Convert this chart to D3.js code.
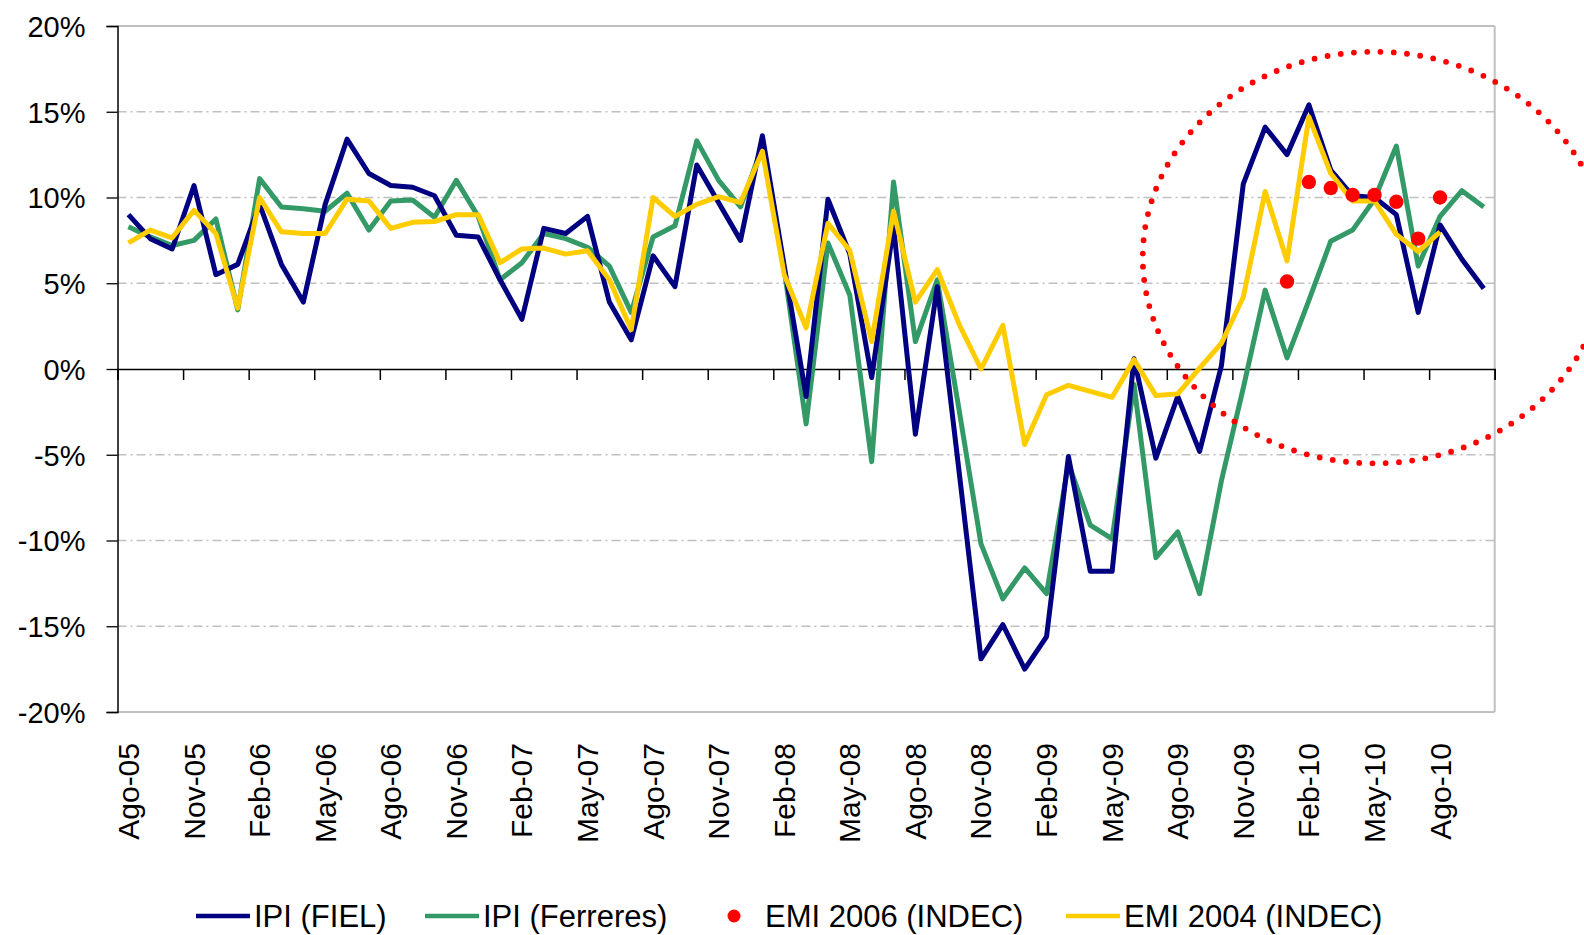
<!DOCTYPE html>
<html>
<head>
<meta charset="utf-8">
<script src="https://cdn.jsdelivr.net/npm/d3@7/dist/d3.min.js"></script>
<style>
body { margin: 0; background: #fff; }
svg text { font-family: "Liberation Sans", Arial, sans-serif; fill: #000; }
</style>
</head>
<body>
<div id="chart"></div>
<script>
// monthly categories, Ago-05 .. Oct-10
var months = ["Ago-05","Sep-05","Oct-05","Nov-05","Dic-05","Ene-06","Feb-06","Mar-06","Abr-06","May-06","Jun-06","Jul-06",
  "Ago-06","Sep-06","Oct-06","Nov-06","Dic-06","Ene-07","Feb-07","Mar-07","Abr-07","May-07","Jun-07","Jul-07",
  "Ago-07","Sep-07","Oct-07","Nov-07","Dic-07","Ene-08","Feb-08","Mar-08","Abr-08","May-08","Jun-08","Jul-08",
  "Ago-08","Sep-08","Oct-08","Nov-08","Dic-08","Ene-09","Feb-09","Mar-09","Abr-09","May-09","Jun-09","Jul-09",
  "Ago-09","Sep-09","Oct-09","Nov-09","Dic-09","Ene-10","Feb-10","Mar-10","Abr-10","May-10","Jun-10","Jul-10",
  "Ago-10","Sep-10","Oct-10"];

var xTickLabels = ["Ago-05","Nov-05","Feb-06","May-06","Ago-06","Nov-06","Feb-07","May-07","Ago-07","Nov-07",
  "Feb-08","May-08","Ago-08","Nov-08","Feb-09","May-09","Ago-09","Nov-09","Feb-10","May-10","Ago-10"];

var yTicks = [-20, -15, -10, -5, 0, 5, 10, 15, 20];

// IPI (FIEL)
var ipiFiel = [9.0, 7.6, 7.0, 10.7, 5.5, 6.1, 9.6, 6.1, 3.9, 9.6, 13.4, 11.4,
  10.7, 10.6, 10.1, 7.8, 7.7, 5.2, 2.9, 8.2, 7.9, 8.9, 3.9, 1.7,
  6.6, 4.8, 11.9, 9.7, 7.5, 13.6, 6.0, -1.6, 9.9, 6.7, -0.5, 8.3,
  -3.8, 4.8, -6.0, -16.9, -14.9, -17.5, -15.6, -5.1, -11.8, -11.8, 0.6, -5.2,
  -1.6, -4.8, 0.2, 10.8, 14.1, 12.5, 15.4, 11.6, 10.1, 10.0, 9.0, 3.3,
  8.4, 6.4, 4.7];

// IPI (Ferreres)
var ipiFerreres = [8.3, 7.7, 7.2, 7.5, 8.75, 3.45, 11.1, 9.45, 9.35, 9.2, 10.25, 8.1,
  9.8, 9.85, 8.85, 11.0, 8.9, 5.2, 6.2, 7.9, 7.6, 7.1, 6.0, 3.3,
  7.7, 8.35, 13.3, 11.0, 9.45, 13.0, 5.8, -3.2, 7.35, 4.3, -5.4, 10.9,
  1.6, 5.2, -2.4, -10.2, -13.4, -11.6, -13.1, -5.5, -9.1, -9.9, -0.9, -11.0,
  -9.5, -13.1, -6.5, -1.1, 4.6, 0.65, 4.0, 7.45, 8.1, 9.9, 13.0, 6.0,
  8.9, 10.4, 9.45];

// EMI 2004 (INDEC), ends Ago-10
var emi2004 = [7.35, 8.1, 7.65, 9.25, 7.9, 3.55, 10.0, 8.0, 7.9, 7.9, 9.9, 9.8,
  8.2, 8.55, 8.6, 9.0, 9.0, 6.2, 7.0, 7.05, 6.7, 6.9, 5.2, 2.3,
  10.0, 8.9, 9.6, 10.05, 9.7, 12.7, 5.5, 2.4, 8.5, 6.9, 1.6, 9.2,
  3.9, 5.8, 2.6, 0.0, 2.55, -4.4, -1.5, -0.95, -1.3, -1.65, 0.55, -1.55,
  -1.45, 0.05, 1.5, 4.2, 10.35, 6.3, 14.7, 11.4, 9.8, 9.8, 7.85, 6.85,
  8.0, null, null];

// EMI 2006 (INDEC), Ene-10 .. Ago-10
var emi2006Months = ["Ene-10","Feb-10","Mar-10","Abr-10","May-10","Jun-10","Jul-10","Ago-10"];
var emi2006 = [5.1, 10.9, 10.55, 10.15, 10.15, 9.75, 7.6, 10.0];

// dotted ring drawn round the last months (in data units)
var ringCenterMonth = 57, ringCenterPct = 6.5, ringRadiusMonths = 10.6, ringRadiusPct = 12;

var W = 1584, H = 935;
var plotLeft = 117.5, plotRight = 1494.7, plotTop = 26, plotBottom = 712;

var svg = d3.select("#chart").append("svg")
    .attr("width", W)
    .attr("height", H);

var x = d3.scaleBand().domain(months).range([plotLeft, plotRight]).padding(0);
var xb = d3.scaleLinear().domain([0, months.length]).range([plotLeft, plotRight]);
var y = d3.scaleLinear().domain([-20, 20]).range([plotBottom, plotTop]);
var cx = function(m) { return x(m) + x.bandwidth() / 2; };

// gridlines
svg.append("g")
    .selectAll("line")
    .data(yTicks.filter(function(d) { return d !== 0; }))
    .enter()
    .append("line")
    .attr("x1", plotLeft).attr("x2", plotRight)
    .attr("y1", function(d) { return y(d); })
    .attr("y2", function(d) { return y(d); })
    .attr("stroke", "#c0c0c0")
    .attr("stroke-width", function(d) { return Math.abs(d) === 20 ? 2 : 1.4; })
    .attr("stroke-dasharray", function(d) { return Math.abs(d) === 20 ? null : "9,4,2,4"; });

svg.append("line")
    .attr("x1", plotRight).attr("x2", plotRight).attr("y1", plotTop).attr("y2", plotBottom)
    .attr("stroke", "#c0c0c0").attr("stroke-width", 2);

// y axis
var yAxis = svg.append("g")
    .attr("transform", "translate(" + plotLeft + ",0)")
    .call(d3.axisLeft(y).tickValues(yTicks).tickSize(11).tickPadding(21)
        .tickFormat(function(d) { return d + "%"; }));
yAxis.select(".domain").attr("stroke", "#000").attr("stroke-width", 1.5);
yAxis.selectAll(".tick line").attr("stroke", "#000").attr("stroke-width", 1.3);
yAxis.selectAll("text").style("font-size", "29px").attr("dy", "0.36em");

// x axis line at 0% with tick marks between every third month
var xAxis = svg.append("g")
    .attr("transform", "translate(0," + y(0) + ")")
    .call(d3.axisBottom(xb).tickValues(d3.range(0, months.length + 1, 3)).tickSize(11).tickFormat(""));
xAxis.select(".domain").attr("stroke", "#000").attr("stroke-width", 1.5);
xAxis.selectAll(".tick line").attr("stroke", "#000").attr("stroke-width", 1.5);

// x labels, rotated, at the bottom
svg.append("g")
    .selectAll("text")
    .data(xTickLabels)
    .enter()
    .append("text")
    .attr("transform", function(d) { return "translate(" + cx(d) + ",743) rotate(-90)"; })
    .attr("text-anchor", "end")
    .attr("dy", "0.35em")
    .style("font-size", "30px")
    .text(function(d) { return d; });

// series
var line = d3.line()
    .defined(function(d) { return d.v !== null; })
    .x(function(d) { return cx(d.m); })
    .y(function(d) { return y(d.v); });

function pairs(vals) {
    return months.map(function(m, i) { return { m: m, v: vals[i] }; });
}

var series = [
    { vals: ipiFerreres, color: "#339966" },
    { vals: ipiFiel, color: "#000080" },
    { vals: emi2004, color: "#ffcc00" }
];

svg.append("g")
    .selectAll("path")
    .data(series)
    .enter()
    .append("path")
    .attr("d", function(s) { return line(pairs(s.vals)); })
    .attr("fill", "none")
    .attr("stroke", function(s) { return s.color; })
    .attr("stroke-width", 5)
    .attr("stroke-linejoin", "round");

svg.append("g")
    .selectAll("circle")
    .data(emi2006Months)
    .enter()
    .append("circle")
    .attr("cx", function(m) { return cx(m); })
    .attr("cy", function(m, i) { return y(emi2006[i]); })
    .attr("r", 7.2)
    .attr("fill", "#ff0000");

// dotted ring
svg.append("ellipse")
    .attr("cx", cx(months[ringCenterMonth]))
    .attr("cy", y(ringCenterPct))
    .attr("rx", ringRadiusMonths * x.bandwidth())
    .attr("ry", y(0) - y(ringRadiusPct))
    .attr("fill", "none")
    .attr("stroke", "#ff0000")
    .attr("stroke-width", 5.8)
    .attr("stroke-linecap", "round")
    .attr("stroke-dasharray", "0,13.3");

// legend
var legendItems = [
    { label: "IPI (FIEL)", color: "#000080", type: "line", x: 196 },
    { label: "IPI (Ferreres)", color: "#339966", type: "line", x: 425 },
    { label: "EMI 2006 (INDEC)", color: "#ff0000", type: "dot", x: 707 },
    { label: "EMI 2004 (INDEC)", color: "#ffcc00", type: "line", x: 1066 }
];
var ly = 916;
var lg = svg.append("g")
    .selectAll("g")
    .data(legendItems)
    .enter()
    .append("g")
    .attr("transform", function(d) { return "translate(" + d.x + "," + ly + ")"; });

lg.filter(function(d) { return d.type === "line"; })
    .append("line")
    .attr("x1", 0).attr("x2", 54).attr("y1", 0).attr("y2", 0)
    .attr("stroke", function(d) { return d.color; })
    .attr("stroke-width", 4.5);
lg.filter(function(d) { return d.type === "dot"; })
    .append("circle")
    .attr("cx", 27).attr("cy", 0).attr("r", 6.5)
    .attr("fill", function(d) { return d.color; });
lg.append("text")
    .attr("x", 58)
    .attr("dy", "0.36em")
    .style("font-size", "31px")
    .text(function(d) { return d.label; });
</script>
</body>
</html>
